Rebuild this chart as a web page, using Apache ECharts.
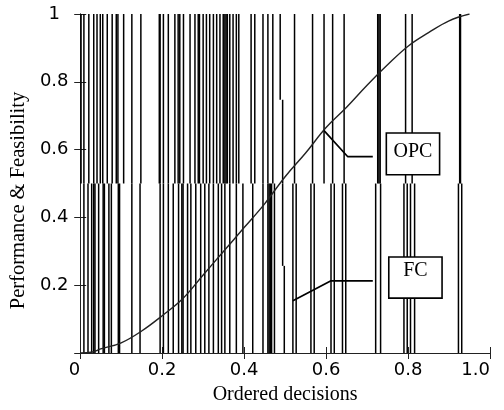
<!DOCTYPE html>
<html>
<head>
<meta charset="utf-8">
<script src="https://cdn.jsdelivr.net/npm/echarts@6/dist/echarts.min.js"></script>
<style>
  html, body { margin: 0; padding: 0; background: #fff; }
  #main { width: 504px; height: 410px; }
</style>
</head>
<body>
<div id="main"></div>
<script>
// decisions whose line runs through the upper half (0.5 - 1)
var upperDecisions = [0.002, 0.009, 0.021, 0.033, 0.041, 0.049, 0.055, 0.066, 0.078, 0.088, 0.092,
  0.106, 0.126, 0.148, 0.193, 0.195, 0.203, 0.215, 0.231, 0.239, 0.243, 0.252, 0.268, 0.280,
  0.288, 0.291, 0.300, 0.308, 0.316, 0.325, 0.333, 0.341, 0.349, 0.353, 0.356, 0.359, 0.365,
  0.373, 0.381, 0.387, 0.417, 0.426, 0.446, 0.458, 0.470, 0.523, 0.567, 0.595, 0.616, 0.644,
  0.726, 0.729, 0.732, 0.794, 0.810, 0.926, 0.928];
// decisions whose line runs through the lower half (0 - 0.5)
var lowerDecisions = [0.009, 0.019, 0.028, 0.033, 0.036, 0.045, 0.056, 0.059, 0.070, 0.076,
  0.093, 0.096, 0.126, 0.146, 0.195, 0.203, 0.215, 0.227, 0.240, 0.248, 0.251, 0.262, 0.270,
  0.282, 0.294, 0.304, 0.314, 0.325, 0.337, 0.345, 0.353, 0.365, 0.381, 0.397, 0.421, 0.446,
  0.458, 0.461, 0.464, 0.467, 0.474, 0.519, 0.527, 0.563, 0.571, 0.612, 0.620, 0.640, 0.648,
  0.721, 0.733, 0.790, 0.798, 0.806, 0.816, 0.923, 0.931];
// the one decision line with a small jog
var jogSegments = [[0.488, 0.747, 1], [0.494, 0.5, 0.747], [0.494, 0.257, 0.5], [0.498, 0, 0.257]];

// ordered performance curve
var curveX = [0, 0.03, 0.05, 0.1, 0.15, 0.2, 0.25, 0.3, 0.35, 0.4, 0.45, 0.5, 0.55, 0.6, 0.65,
  0.7, 0.75, 0.8, 0.85, 0.9, 0.95];
var curveY = [0, 0.003, 0.012, 0.03, 0.065, 0.11, 0.16, 0.23, 0.30, 0.37, 0.44, 0.52, 0.59,
  0.665, 0.725, 0.79, 0.85, 0.905, 0.945, 0.98, 1.0];

// annotations: leaders and boxes [x0, y0, x1, y1, label, text shift]
var opcLeader = [[0.595, 0.656], [0.653, 0.579], [0.714, 0.579]];
var fcLeader = [[0.519, 0.154], [0.612, 0.213], [0.714, 0.213]];
var labelBoxes = [[0.747, 0.526, 0.877, 0.649, 'OPC', -2], [0.753, 0.162, 0.883, 0.283, 'FC', -7]];

var segData = upperDecisions.map(function (x) { return [x, 0.5, 1]; })
  .concat(lowerDecisions.map(function (x) { return [x, 0, 0.5]; }))
  .concat(jogSegments);

var chart = echarts.init(document.getElementById('main'), null, { renderer: 'canvas' });

function segItem(params, api) {
  var x = api.value(0);
  var p0 = api.coord([x, api.value(1)]);
  var p1 = api.coord([x, api.value(2)]);
  return {
    type: 'line',
    shape: { x1: p0[0], y1: p0[1], x2: p1[0], y2: p1[1] },
    style: { stroke: '#000', lineWidth: 1.5 }
  };
}

function boxItem(params, api) {
  var a = api.coord([api.value(0), api.value(3)]);
  var b = api.coord([api.value(2), api.value(1)]);
  return {
    type: 'group',
    children: [{
      type: 'rect',
      shape: { x: a[0], y: a[1], width: b[0] - a[0], height: b[1] - a[1] },
      style: { fill: '#fff', stroke: '#000', lineWidth: 1.6 }
    }, {
      type: 'text',
      style: {
        text: api.value(4),
        x: (a[0] + b[0]) / 2,
        y: (a[1] + b[1]) / 2 + api.value(5),
        align: 'center',
        verticalAlign: 'middle',
        font: '20px "Liberation Serif", "Times New Roman", serif',
        fill: '#000'
      }
    }]
  };
}

var tickFont = { fontFamily: 'DejaVu Sans', fontSize: 18, color: '#000' };

var option = {
  animation: false,
  grid: { left: 78, right: 14, top: 14, bottom: 56 },
  xAxis: [{
    type: 'value', min: 0, max: 1, interval: 0.2,
    name: 'Ordered decisions', nameLocation: 'middle', nameGap: 32,
    nameTextStyle: { fontFamily: 'Liberation Serif', fontSize: 20, color: '#000' },
    axisLine: { lineStyle: { color: '#222', width: 1 } },
    axisTick: { inside: true, length: 6, lineStyle: { color: '#222' } },
    axisLabel: Object.assign({
      margin: 8, alignMinLabel: 'right', alignMaxLabel: 'right',
      formatter: function (v) { return v === 0 ? '0' : v.toFixed(1); },
      rich: {}
    }, tickFont),
    splitLine: { show: false }
  }, {
    type: 'value', min: 0, max: 1, interval: 0.2, position: 'top',
    axisLine: { lineStyle: { color: '#222', width: 1 } },
    axisTick: { inside: true, length: 6, lineStyle: { color: '#222' } },
    axisLabel: { show: false },
    splitLine: { show: false }
  }],
  yAxis: [{
    type: 'value', min: 0, max: 1, interval: 0.2,
    name: 'Performance & Feasibility', nameLocation: 'middle', nameGap: 43,
    nameTextStyle: { fontFamily: 'Liberation Serif', fontSize: 20.5, color: '#000', padding: [0, 34, 0, 0] },
    axisLine: { lineStyle: { color: '#222', width: 1 } },
    axisTick: { inside: true, length: 6, lineStyle: { color: '#222' } },
    axisLabel: Object.assign({
      margin: 26, align: 'center',
      formatter: function (v) { return v === 0 ? '' : (v === 1 ? '1' : v.toFixed(1)); }
    }, tickFont),
    splitLine: { show: false }
  }, {
    type: 'value', min: 0, max: 1, interval: 0.2, position: 'right',
    axisLine: { lineStyle: { color: '#222', width: 1 } },
    axisTick: { inside: true, length: 6, lineStyle: { color: '#222' } },
    axisLabel: { show: false },
    splitLine: { show: false }
  }],
  series: [{
    type: 'custom',
    renderItem: segItem,
    encode: { x: 0, y: [1, 2] },
    data: segData,
    silent: true,
    z: 2
  }, {
    type: 'line',
    data: curveX.map(function (x, i) { return [x, curveY[i]]; }),
    smooth: 0.4,
    symbol: 'none',
    lineStyle: { color: '#222', width: 1.4 },
    z: 3
  }, {
    type: 'line',
    data: opcLeader,
    symbol: 'none',
    lineStyle: { color: '#000', width: 1.7 },
    z: 4
  }, {
    type: 'line',
    data: fcLeader,
    symbol: 'none',
    lineStyle: { color: '#000', width: 1.7 },
    z: 4
  }, {
    type: 'custom',
    renderItem: boxItem,
    encode: { x: [0, 2], y: [1, 3] },
    data: labelBoxes,
    z: 5
  }]
};

chart.setOption(option);
</script>
</body>
</html>
